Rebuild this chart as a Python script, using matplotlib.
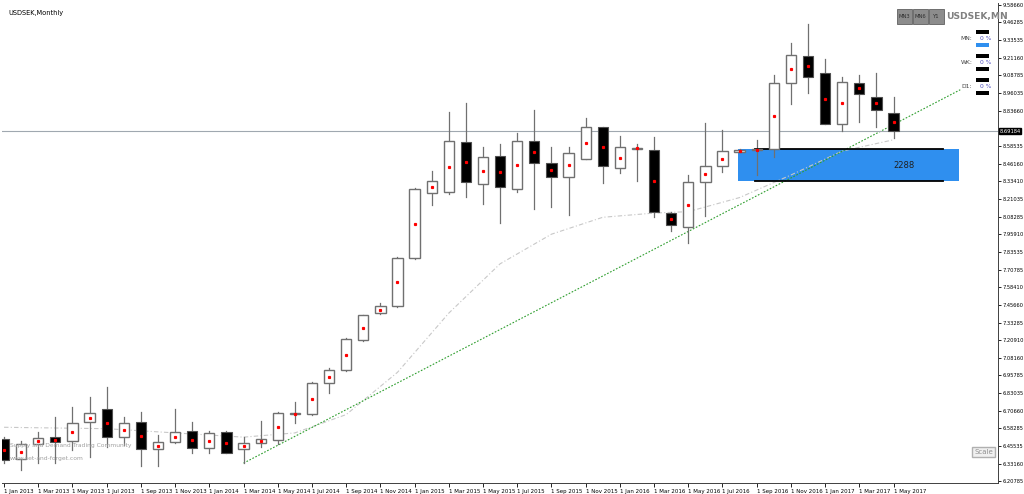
import matplotlib
matplotlib.use("Agg")
import matplotlib.pyplot as plt
from matplotlib.patches import Rectangle
import datetime as dt

months = []
y, m = 2013, 1
for _ in range(53):
    months.append(dt.date(y, m, 1))
    m += 1
    if m > 12:
        m, y = 1, y + 1

opens = [6.5060,6.3640,6.4705,6.5202,6.4918,6.6267,6.7189,6.5202,6.6267,6.4350,6.4847,6.5628,6.4421,6.5557,
         6.4350,6.4776,6.4989,6.6834,6.6834,6.9035,6.9958,7.2087,7.4004,7.4501,7.7908,8.2521,8.2592,8.6142,
         8.3160,8.5148,8.2805,8.6213,8.4651,8.3657,8.4935,8.7206,8.4296,8.5650,8.5574,8.1102,8.0108,8.3302,
         8.4438,8.5432,8.5574,8.5645,9.0329,9.2246,9.1039,8.7419,9.0329,8.9336,8.8200]
highs = [6.5202,6.4918,6.5557,6.6621,6.7331,6.8041,6.8751,6.6621,6.6977,6.5344,6.7189,6.6267,6.5628,6.5628,
         6.5202,6.6338,6.6977,6.7686,6.9106,7.0100,7.2200,7.3900,7.4713,7.7950,8.2900,8.4083,8.8271,8.8910,
         8.5787,8.6000,8.6780,8.8413,8.5787,8.5787,8.7845,8.7206,8.6567,8.6000,8.6496,8.1173,8.3799,8.7490,
         8.6993,8.5645,8.6284,9.0897,9.3169,9.4517,9.2033,9.0755,9.0897,9.1039,8.9336]
lows = [6.3400,6.2859,6.3356,6.3356,6.4279,6.3782,6.4492,6.4634,6.3143,6.3143,6.4776,6.4066,6.4066,6.4066,
        6.3356,6.4492,6.4705,6.6196,6.6780,6.8325,6.9900,7.2000,7.3933,7.4400,7.7850,8.1670,8.2450,8.2238,
        8.1741,8.0392,8.2592,8.1386,8.1528,8.0960,8.4935,8.3231,8.3941,8.3373,8.0818,7.9824,7.8972,8.0889,
        8.4012,8.5432,8.3799,8.5077,8.8839,8.9620,8.7419,8.6922,8.7561,8.7206,8.6425]
closes = [6.3569,6.4705,6.5131,6.4847,6.6196,6.6905,6.5202,6.6196,6.4350,6.4847,6.5557,6.4421,6.5486,6.4066,
          6.4776,6.5060,6.6905,6.6900,6.9035,6.9958,7.2158,7.3862,7.4501,7.7908,8.2805,8.3373,8.6213,8.3302,
          8.5077,8.2947,8.6213,8.4651,8.3657,8.5361,8.7206,8.4438,8.5787,8.5716,8.1173,8.0250,8.3302,8.4438,
          8.5503,8.5574,8.5600,9.0329,9.2317,9.0755,8.7419,9.0400,8.9549,8.8413,8.6922]

ma_idx = [0, 6, 14, 17, 20, 23, 26, 29, 32, 35, 38, 40, 43, 46, 49, 52]
ma_val = [6.59, 6.58, 6.52, 6.55, 6.68, 6.98, 7.40, 7.75, 7.96, 8.08, 8.11, 8.12, 8.22, 8.38, 8.55, 8.63]

ytick_labels = ["9.58660","9.46285","9.33535","9.21160","9.08785","8.96035","8.83660","8.58535",
                "8.46160","8.33410","8.21035","8.08285","7.95910","7.83535","7.70785","7.58410","7.45660",
                "7.33285","7.20910","7.08160","6.95785","6.83035","6.70660","6.58285","6.45535","6.33160","6.20785"]
current_price = 8.6922
zone_top, zone_bottom = 8.5645, 8.3373
zone_label = "2288"

fig = plt.figure(figsize=(10.24, 4.94), dpi=100)
ax = fig.add_axes([0.002, 0.022, 0.973, 0.972])
ax.set_xlim(-0.117, 58.13)
ax.set_ylim(6.1937, 9.6008)

def fx(px):
    return (px - 2) / 996.0

def fy(py):
    return (483 - py) / 480.0

w = 0.6
for i in range(len(opens)):
    o, h, l, c = opens[i], highs[i], lows[i], closes[i]
    ax.plot([i, i], [l, h], color="#707070", lw=0.9, zorder=2)
    lo, hi = min(o, c), max(o, c)
    hgt = max(hi - lo, 0.006)
    if c >= o:
        ax.add_patch(Rectangle((i - w/2, lo), w, hgt, facecolor="white", edgecolor="#707070", lw=1.0, zorder=3))
    else:
        ax.add_patch(Rectangle((i - w/2, lo), w, hgt, facecolor="black", edgecolor="#505050", lw=0.8, zorder=3))
    ax.plot(i, (o + c) / 2, marker="s", ms=1.3, color="red", mec="red", zorder=4)

ax.plot(ma_idx, ma_val, color="#c8c8c8", lw=0.8, ls=(0, (4, 2, 1, 2)), zorder=1)
ax.plot([14, 55.9], [lows[14], 8.985], color="#2e9e2e", lw=0.8, ls=(0, (1.5, 1.5)), zorder=1)
ax.axhline(current_price, color="#a0a8b0", lw=0.8, zorder=1)

ax.add_patch(Rectangle((42.9, zone_bottom), 12.9, zone_top - zone_bottom, facecolor="#2f8fef", edgecolor="none", zorder=0.5))
ax.plot([43.9, 54.9], [zone_top, zone_top], color="black", lw=1.3, zorder=2)
ax.plot([43.9, 54.9], [zone_bottom, zone_bottom], color="black", lw=1.3, zorder=2)
ax.text(52.6, (zone_top + zone_bottom) / 2, zone_label, fontsize=6, ha="center", va="center", color="#202020")

tick_pos = [float(s) for s in ytick_labels]
ax.yaxis.tick_right()
ax.set_yticks(tick_pos)
ax.set_yticklabels(ytick_labels, fontsize=3.7)
ax.tick_params(axis="y", length=2, width=0.6, pad=0.8)
ax.text(1.001, current_price, "8.69184", transform=ax.get_yaxis_transform(), fontsize=3.7, color="white",
        va="center", ha="left", bbox=dict(boxstyle="square,pad=0.15", fc="black", ec="black"))

xt = list(range(0, 53, 2))
ax.set_xticks(xt)
ax.set_xticklabels([f"1 {months[i].strftime('%b %Y')}" for i in xt], fontsize=4.0, ha="left")
ax.tick_params(axis="x", length=3, width=0.6, pad=1)
for sp in ["top", "left"]:
    ax.spines[sp].set_visible(False)
for sp in ["right", "bottom"]:
    ax.spines[sp].set_color("#404040")
    ax.spines[sp].set_linewidth(0.7)

ax.text(0.006, 0.985, "USDSEK,Monthly", transform=ax.transAxes, fontsize=4.8, va="top", ha="left")
ax.text(0.008, 0.075, "Supply and Demand Trading Community", transform=ax.transAxes, fontsize=4.3, color="#a0a0a0")
ax.text(0.008, 0.048, "www.set-and-forget.com", transform=ax.transAxes, fontsize=4.3, color="#a0a0a0")

for label, px in [("MN3", 904), ("MN6", 920), ("Y1", 936)]:
    ax.add_patch(Rectangle((fx(px - 7.5), fy(24)), 15 / 996, 15 / 480, transform=ax.transAxes,
                           fc="#8c8c8c", ec="#606060", lw=0.6, zorder=5))
    ax.text(fx(px), fy(16.5), label, transform=ax.transAxes, fontsize=3.8, color="#303030",
            ha="center", va="center", zorder=6)
ax.text(fx(946), fy(16.5), "USDSEK,MN", transform=ax.transAxes, fontsize=6.6, color="#808080", fontweight="bold",
        family=["Liberation Sans Narrow", "DejaVu Sans"], ha="left", va="center")
for lab, py in [("MN:", 39), ("WK:", 63), ("D1:", 87)]:
    ax.text(fx(966), fy(py), lab, transform=ax.transAxes, fontsize=4.3, color="#404040", ha="center", va="center")
    ax.text(fx(985), fy(py), "0 %", transform=ax.transAxes, fontsize=4.3, color="#5050c0", ha="center", va="center")
for py, col in [(32, "black"), (45, "#2f8fef"), (56, "black"), (69, "black"), (80, "black"), (93, "black")]:
    ax.add_patch(Rectangle((fx(976), fy(py + 2)), 13 / 996, 4 / 480, transform=ax.transAxes, fc=col, ec="none", zorder=5))
ax.text(fx(983), fy(452), "Scale", transform=ax.transAxes, fontsize=5, color="#909090", ha="center", va="center",
        bbox=dict(boxstyle="square,pad=0.3", fc="#f0f0f0", ec="#b0b0b0"))

fig.savefig("out.png", dpi=100)
